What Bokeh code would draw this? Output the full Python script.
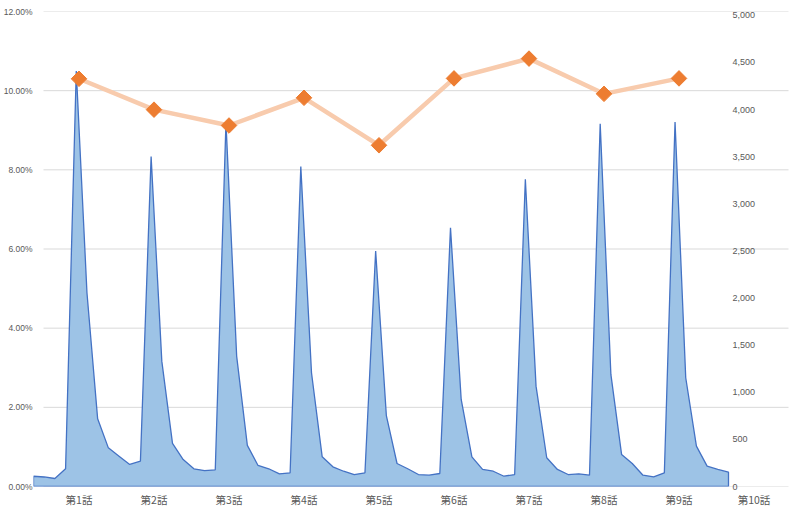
import math
from bokeh.plotting import figure
from bokeh.models import (Range1d, LinearAxis, FixedTicker, NumeralTickFormatter,
                          ColumnDataSource)
from bokeh.embed import file_html
from bokeh.resources import INLINE

# ---------------- data ----------------
episodes = ["第1話", "第2話", "第3話", "第4話", "第5話", "第6話", "第7話", "第8話", "第9話", "第10話"]
episode_no = [1, 2, 3, 4, 5, 6, 7, 8, 9, 10]

# rating per episode (left axis), 9 aired values
rating_ep = [1, 2, 3, 4, 5, 6, 7, 8, 9]
rating = [0.1030, 0.0952, 0.0912, 0.0982, 0.0862, 0.1031, 0.1081, 0.0992, 0.1031]

# daily counts (right axis)
daily_counts = [
    109, 101, 85, 188,
    4409, 2056, 718, 410, 322, 234, 269,
    3500, 1330, 457, 286, 188, 169, 177,
    3861, 1384, 436, 223, 188, 134, 145,
    3394, 1207, 315, 209, 162, 127, 145,
    2498, 753, 244, 188, 127, 120, 138,
    2746, 924, 315, 181, 162, 109, 127,
    3259, 1065, 305, 181, 127, 134, 120,
    3850, 1189, 340, 244, 120, 103, 145,
    3868, 1154, 428, 216, 181, 152,
]
day_index = list(range(len(daily_counts)))

left_ticks = [0.0, 0.02, 0.04, 0.06, 0.08, 0.10, 0.12]
right_ticks = [0, 500, 1000, 1500, 2000, 2500, 3000, 3500, 4000, 4500, 5000]

# ---------------- layout constants (pixels) ----------------
FRAME_W, FRAME_H = 757, 475
PX_PER_DAY = 695 / 65.0
EP1_OFFSET_PX = 45.5
PX_PER_EP = 75.0
GRID_LEFT_PX, GRID_RIGHT_PX = 10, 755

fig = figure(width=800, height=516, frame_width=FRAME_W, frame_height=FRAME_H,
             output_backend="svg", toolbar_location=None,
             x_range=Range1d(0, FRAME_W / PX_PER_DAY),
             y_range=Range1d(0, 0.12),
             min_border_left=33, min_border_right=10, min_border_top=11, min_border_bottom=30)
fig.outline_line_color = None
fig.background_fill_color = "white"
fig.border_fill_color = "white"

ep_start = 1 - EP1_OFFSET_PX / PX_PER_EP
fig.extra_x_ranges = {"ep": Range1d(ep_start, ep_start + FRAME_W / PX_PER_EP)}
fig.extra_y_ranges = {"right": Range1d(0, 5040)}

# remove default axes / grids
fig.xaxis.visible = False
fig.yaxis.visible = False
fig.xgrid.visible = False
fig.ygrid.visible = False

grey = "#595959"
num_font = "Liberation Sans"

# left axis
left_axis = LinearAxis(ticker=FixedTicker(ticks=left_ticks),
                       formatter=NumeralTickFormatter(format="0.00%"))
left_axis.axis_line_color = None
left_axis.major_tick_line_color = None
left_axis.minor_tick_line_color = None
left_axis.major_tick_out = 0
left_axis.major_label_standoff = 1
left_axis.major_label_text_font = num_font
left_axis.major_label_text_font_size = "8.5px"
left_axis.major_label_text_color = grey
fig.add_layout(left_axis, "left")

# right axis (labels drawn inside the plot area, like the original)
right_axis = LinearAxis(y_range_name="right", ticker=FixedTicker(ticks=right_ticks),
                        formatter=NumeralTickFormatter(format="0,0"))
right_axis.axis_line_color = None
right_axis.major_tick_line_color = None
right_axis.minor_tick_line_color = None
right_axis.major_tick_out = 0
right_axis.major_label_standoff = -58
right_axis.major_label_text_font = num_font
right_axis.major_label_text_font_size = "9px"
right_axis.major_label_text_color = grey
fig.add_layout(right_axis, "right")

# bottom axis (episodes)
bottom_axis = LinearAxis(x_range_name="ep", ticker=FixedTicker(ticks=episode_no),
                         major_label_overrides={n: lab for n, lab in zip(episode_no, episodes)})
bottom_axis.axis_line_color = None
bottom_axis.major_tick_line_color = None
bottom_axis.minor_tick_line_color = None
bottom_axis.major_tick_out = 0
bottom_axis.major_label_standoff = 5
bottom_axis.major_label_text_font = "Noto Sans CJK JP"
bottom_axis.major_label_text_font_size = "10.5px"
bottom_axis.major_label_text_color = grey
fig.add_layout(bottom_axis, "below")

# horizontal gridlines (left-axis ticks), spanning the category area only
g_x0 = ep_start + GRID_LEFT_PX / PX_PER_EP
g_x1 = ep_start + GRID_RIGHT_PX / PX_PER_EP
fig.segment(x0=[g_x0] * len(left_ticks), x1=[g_x1] * len(left_ticks),
            y0=left_ticks, y1=left_ticks, x_range_name="ep",
            line_color="#D9D9D9", line_width=1)

# area series
px = [day_index[0]] + day_index + [day_index[-1]]
py = [0] + daily_counts + [0]
fig.patch(px, py, y_range_name="right", fill_color="#9DC3E6", fill_alpha=1.0,
          line_color="#4472C4", line_width=1.3)

# rating line
src = ColumnDataSource(dict(x=rating_ep, y=rating))
fig.line("x", "y", source=src, x_range_name="ep", line_color="#F8CBAD", line_width=4.5)
fig.scatter("x", "y", source=src, x_range_name="ep", marker="square", angle=math.pi / 4,
            size=11, fill_color="#ED7D31", line_color="#ED7D31")

open("out.html", "w").write(file_html(fig, INLINE))
